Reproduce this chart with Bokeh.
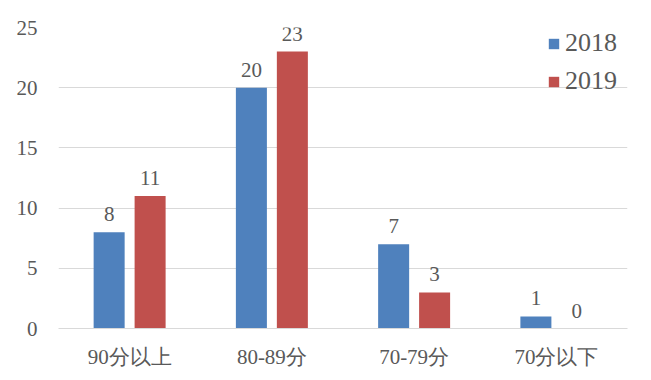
from bokeh.plotting import figure
from bokeh.models import ColumnDataSource, FactorRange, Range1d, LabelSet, Legend, LegendItem, FixedTicker
from bokeh.transform import dodge
from bokeh.embed import file_html
from bokeh.resources import INLINE

categories = ["90分以上", "80-89分", "70-79分", "70分以下"]
s2018 = [8, 20, 7, 1]
s2019 = [11, 23, 3, 0]
series_names = ["2018", "2019"]
y_ticks = [0, 5, 10, 15, 20, 25]

FONT = "Liberation Serif"
TXT = "#595959"
BLUE = "#4F81BD"
RED = "#C0504D"

src = ColumnDataSource(dict(cat=categories, a=s2018, b=s2019,
                            la=[str(v) for v in s2018], lb=[str(v) for v in s2019]))

p = figure(x_range=FactorRange(*categories), y_range=Range1d(0, 25),
           width=643, height=372, output_backend="svg", toolbar_location=None,
           min_border_left=58, min_border_right=16, min_border_top=27, min_border_bottom=44)
p.outline_line_color = None
p.background_fill_color = "white"

ra = p.vbar(x=dodge("cat", -0.144, range=p.x_range), top="a", width=0.218, source=src,
            fill_color=BLUE, line_color=None)
rb = p.vbar(x=dodge("cat", 0.144, range=p.x_range), top="b", width=0.218, source=src,
            fill_color=RED, line_color=None)

for col, lab, off in (("a", "la", -0.144), ("b", "lb", 0.144)):
    p.add_layout(LabelSet(x=dodge("cat", off, range=p.x_range), y=col, text=lab, source=src,
                          y_offset=11, text_align="center", text_baseline="bottom",
                          text_font=FONT, text_font_size="21px", text_color=TXT))

p.xgrid.grid_line_color = None
p.ygrid.grid_line_color = "#D9D9D9"
p.ygrid.ticker = FixedTicker(ticks=y_ticks)
p.yaxis.ticker = FixedTicker(ticks=y_ticks)
p.yaxis.axis_line_color = None
p.yaxis.major_tick_line_color = None
p.yaxis.minor_tick_line_color = None
p.yaxis.major_tick_out = 0
p.yaxis.minor_tick_out = 0
p.yaxis.major_label_standoff = 21
p.xaxis.axis_line_color = "#D9D9D9"
p.xaxis.major_tick_line_color = None
p.xaxis.minor_tick_line_color = None
p.xaxis.major_tick_out = 0
p.xaxis.minor_tick_out = 0
p.xaxis.major_label_standoff = 16
for ax in (p.xaxis, p.yaxis):
    ax.major_label_text_font = FONT
    ax.major_label_text_font_size = "21px"
    ax.major_label_text_color = TXT

legend = Legend(items=[LegendItem(label=series_names[0], renderers=[ra]),
                       LegendItem(label=series_names[1], renderers=[rb])],
                location=(489, 232), border_line_color=None, background_fill_alpha=0,
                glyph_width=13, glyph_height=13, label_text_font=FONT,
                label_text_font_size="26px", label_text_color=TXT,
                spacing=8, margin=0, padding=0, label_standoff=5, label_height=30)
p.add_layout(legend)

open("out.html", "w").write(file_html(p, INLINE))
